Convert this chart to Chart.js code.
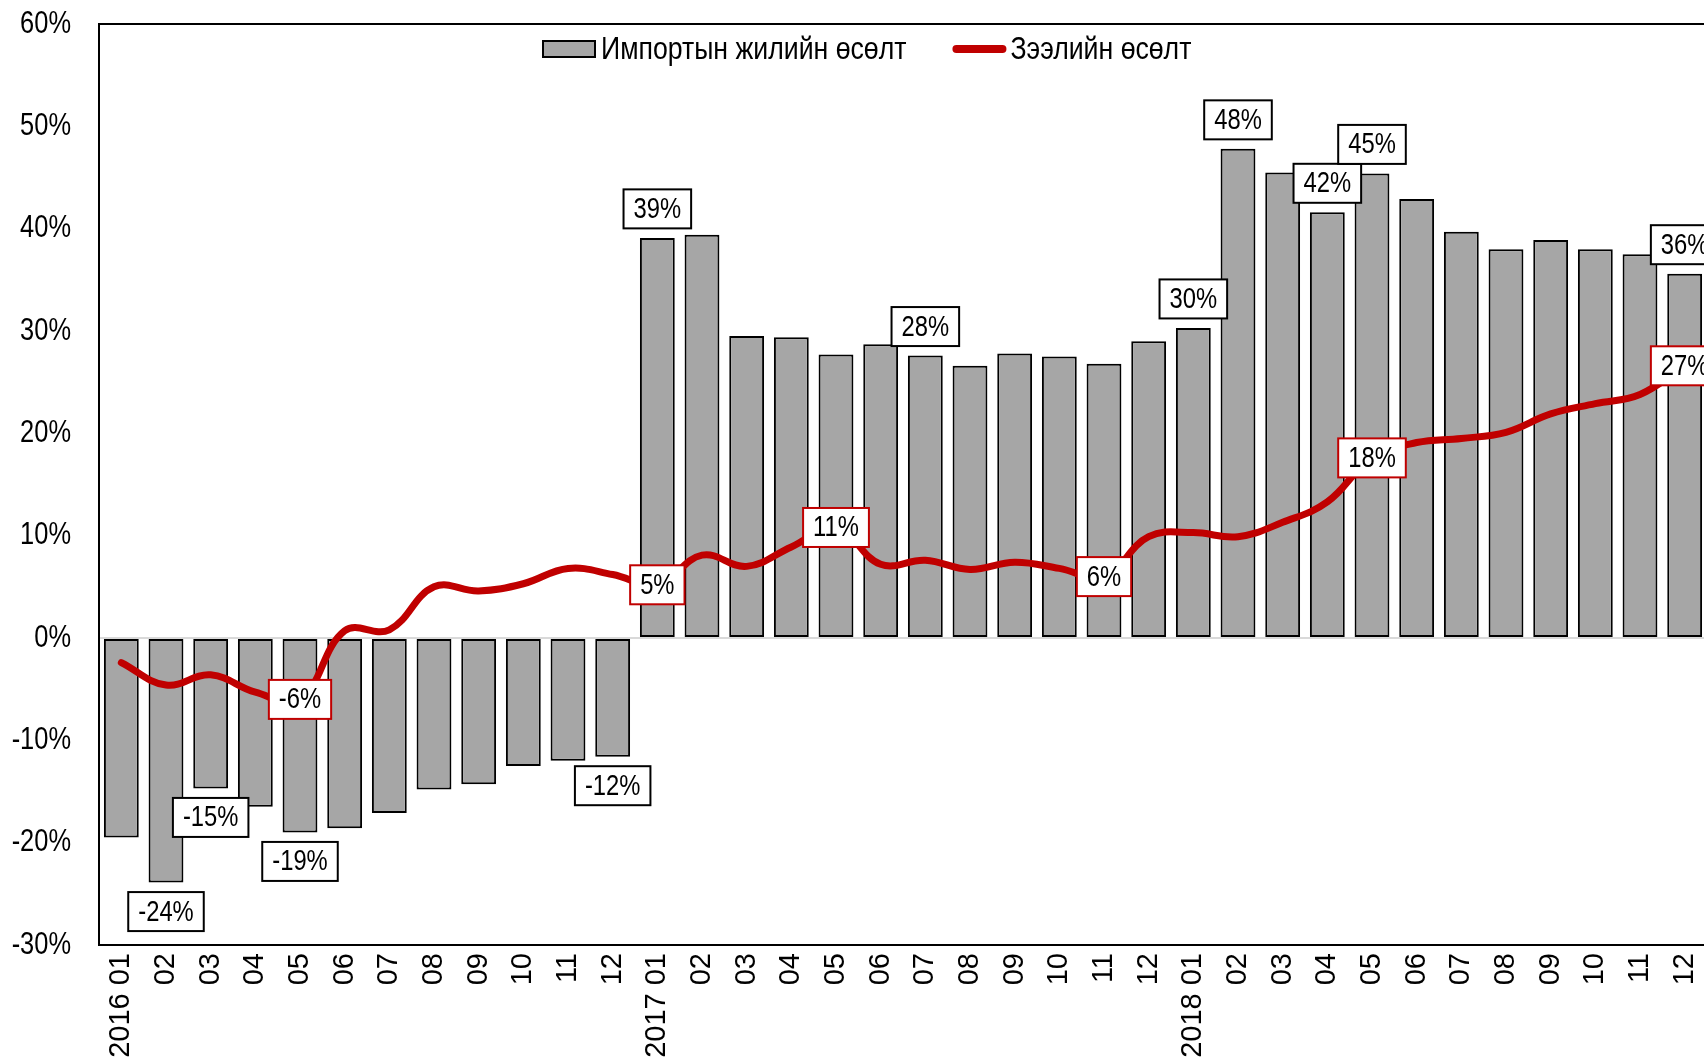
<!DOCTYPE html>
<html>
<head>
<meta charset="utf-8">
<script src="https://cdn.jsdelivr.net/npm/chart.js@4.4.1/dist/chart.umd.min.js"></script>
<style>
  body { margin: 0; overflow: hidden; background: #fff; }
  #wrap { width: 1712px; height: 1064px; }
</style>
</head>
<body>
<div id="wrap"><canvas id="growthCanvas"></canvas></div>
<script>
const categories = [
  '2016 01', '02', '03', '04', '05', '06', '07', '08', '09', '10', '11', '12',
  '2017 01', '02', '03', '04', '05', '06', '07', '08', '09', '10', '11', '12',
  '2018 01', '02', '03', '04', '05', '06', '07', '08', '09', '10', '11', '12'
];
const importGrowth = [
  -19.5, -23.9, -14.7, -16.5, -19.0, -18.6, -17.1, -14.8, -14.3, -12.5, -12.0, -11.6,
  39.1, 39.4, 29.5, 29.4, 27.7, 28.7, 27.6, 26.6, 27.8, 27.5, 26.8, 29.0,
  30.3, 47.8, 45.5, 41.6, 45.4, 42.9, 39.7, 38.0, 38.9, 38.0, 37.5, 35.6
];
const loanGrowth = [
  -2.4, -4.6, -3.6, -5.3, -6.0, 0.7, 0.8, 5.0, 4.6, 5.3, 6.8, 6.2,
  5.2, 8.1, 7.0, 8.9, 10.8, 7.2, 7.6, 6.7, 7.4, 6.8, 6.0, 9.9,
  10.3, 9.9, 11.3, 13.3, 17.6, 19.1, 19.5, 20.1, 21.9, 22.9, 23.8, 26.6
];
// which points get a value box
const importLabelIdx = [1, 2, 4, 11, 12, 18, 24, 25, 27, 28, 35];
const loanLabelIdx = [4, 12, 16, 22, 28, 35];
const yTicks = [-30, -20, -10, 0, 10, 20, 30, 40, 50, 60];

const SANS = '"Liberation Sans", Arial, sans-serif';
const RED = '#C00000';
const GREY = '#A6A6A6';
const SQUEEZE = 0.82; // no Arial Narrow here, so squeeze Liberation Sans

function narrowWidth(ctx, text, k = SQUEEZE) {
  return ctx.measureText(text).width * k;
}
function narrowText(ctx, text, x, y, k = SQUEEZE) {
  ctx.save();
  ctx.translate(x, y);
  ctx.scale(k, 1);
  ctx.fillText(text, 0, 0);
  ctx.restore();
}

function drawBox(ctx, x, y, text, border) {
  ctx.save();
  ctx.font = '29px ' + SANS;
  const w = narrowWidth(ctx, text) + 20;
  const h = 39;
  ctx.fillStyle = '#fff';
  ctx.fillRect(x - w / 2, y - h / 2, w, h);
  ctx.lineWidth = 2;
  ctx.strokeStyle = border;
  ctx.strokeRect(x - w / 2, y - h / 2, w, h);
  ctx.fillStyle = '#000';
  ctx.textAlign = 'center';
  ctx.textBaseline = 'middle';
  narrowText(ctx, text, x, y + 1);
  ctx.restore();
}

const valueBoxes = {
  id: 'valueBoxes',
  afterDatasetsDraw(chart) {
    const ctx = chart.ctx;
    const bars = chart.getDatasetMeta(0).data;
    importLabelIdx.forEach(i => {
      const v = importGrowth[i];
      const el = bars[i];
      drawBox(ctx, el.x, v >= 0 ? el.y - 29 : el.y + 29, Math.round(v) + '%', '#000');
    });
    const pts = chart.getDatasetMeta(1).data;
    loanLabelIdx.forEach(i => {
      drawBox(ctx, pts[i].x, pts[i].y, Math.round(loanGrowth[i]) + '%', RED);
    });
  }
};

// frame top, narrow y labels and the legend
const extras = {
  id: 'extras',
  afterDraw(chart) {
    const a = chart.chartArea;
    const ctx = chart.ctx;
    const y = chart.scales.y;
    ctx.save();
    ctx.strokeStyle = '#000';
    ctx.lineWidth = 2;
    ctx.beginPath();
    ctx.moveTo(a.left, a.top);
    ctx.lineTo(a.right, a.top);
    ctx.stroke();

    ctx.fillStyle = '#000';
    ctx.font = '31px ' + SANS;
    ctx.textAlign = 'right';
    ctx.textBaseline = 'middle';
    yTicks.forEach(v => narrowText(ctx, v + '%', a.left - 28, y.getPixelForValue(v)));

    // legend
    const ds = chart.data.datasets;
    const k = 0.86;
    ctx.font = '31px ' + SANS;
    ctx.textAlign = 'left';
    const ly = a.top + 25;
    let x = a.left + 444;
    ctx.fillStyle = GREY;
    ctx.fillRect(x, ly - 8, 52, 16);
    ctx.lineWidth = 2;
    ctx.strokeStyle = '#000';
    ctx.strokeRect(x, ly - 8, 52, 16);
    x += 58;
    ctx.fillStyle = '#000';
    narrowText(ctx, ds[0].label, x, ly + 1, k);
    x += narrowWidth(ctx, ds[0].label, k) + 46;
    ctx.strokeStyle = RED;
    ctx.lineWidth = 8;
    ctx.lineCap = 'round';
    ctx.beginPath();
    ctx.moveTo(x + 4, ly);
    ctx.lineTo(x + 50, ly);
    ctx.stroke();
    x += 58;
    narrowText(ctx, ds[1].label, x, ly + 1, k);
    ctx.restore();
  }
};

const ctx = document.getElementById('growthCanvas').getContext('2d');
new Chart(ctx, {
  type: 'bar',
  data: {
    labels: categories,
    datasets: [{
      label: 'Импортын жилийн өсөлт',
      data: importGrowth,
      backgroundColor: GREY,
      borderColor: '#000',
      borderWidth: 2,
      borderSkipped: false,
      barPercentage: 0.78,
      categoryPercentage: 1,
      order: 2
    }, {
      type: 'line',
      label: 'Зээлийн өсөлт',
      data: loanGrowth,
      borderColor: RED,
      backgroundColor: RED,
      borderWidth: 7,
      borderCapStyle: 'round',
      tension: 0.4,
      pointRadius: 0,
      order: 1
    }]
  },
  options: {
    responsive: true,
    maintainAspectRatio: false,
    animation: false,
    layout: { padding: { top: 24, right: 5, left: 0, bottom: 0 } },
    plugins: {
      tooltip: { enabled: false },
      legend: { display: false }
    },
    scales: {
      x: {
        grid: { display: false, drawTicks: false },
        border: { display: true, color: '#000', width: 2 },
        ticks: {
          autoSkip: false,
          minRotation: 90,
          maxRotation: 90,
          padding: 8,
          color: '#000',
          font: { family: SANS, size: 29 }
        },
        afterFit(scale) {
          scale.height = 119;
          scale.paddingLeft = 0;
          scale.paddingRight = 0;
        }
      },
      y: {
        min: -30,
        max: 60,
        afterBuildTicks(scale) {
          scale.ticks = yTicks.map(v => ({ value: v }));
        },
        grid: {
          drawTicks: false,
          lineWidth: 2,
          color: c => (c.tick && c.tick.value === 0 ? '#D9D9D9' : 'rgba(0,0,0,0)')
        },
        border: { display: true, color: '#000', width: 2 },
        ticks: { display: false },
        afterFit(scale) {
          scale.width = 99;
          scale.paddingTop = 0;
          scale.paddingBottom = 0;
        }
      }
    }
  },
  plugins: [valueBoxes, extras]
});
</script>
</body>
</html>
